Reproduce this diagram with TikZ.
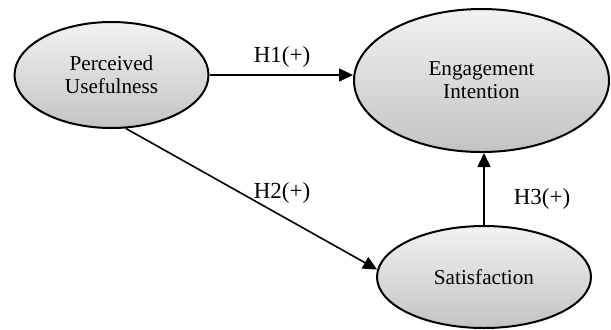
\documentclass[tikz,border=0pt]{standalone}
\usepackage{fontspec}
\setmainfont{Liberation Serif}
\usetikzlibrary{shapes.geometric,arrows.meta}
\definecolor{shtop}{RGB}{242,242,242}
\definecolor{shbot}{RGB}{195,195,195}
\tikzset{
  construct/.style={ellipse, draw=black, line width=1pt, inner sep=0pt,
    top color=shtop, bottom color=shbot, align=center,
    font=\fontsize{10.6}{11.6}\selectfont},
  path/.style={draw=black, line width=0.8pt, -{Triangle[length=7pt,width=6.5pt]}},
  hlabel/.style={font=\fontsize{11.5}{13}\selectfont, inner sep=0pt}
}
\begin{document}
\begin{tikzpicture}[x=0.5pt,y=-0.5pt]
\useasboundingbox (0,0) rectangle (611,329);
\node[construct, minimum width=97pt, minimum height=53pt] (pu) at (111.5,75) {Perceived\\Usefulness};
\node[construct, minimum width=127.5pt, minimum height=71.5pt] (ei) at (481.5,80.5) {Engagement\\Intention};
\node[construct, minimum width=107pt, minimum height=51pt] (sat) at (484,277) {Satisfaction};
\draw[path] (pu.east) -- (pu.east -| ei.west);
\draw[path] (pu.-75) -- (sat.176);
\draw[path] (sat.north) -- (sat.north |- ei.south);
\node[hlabel] (h1) at (282,57) {H1(+)};
\node[hlabel] (h2) at (282,193) {H2(+)};
\node[hlabel] (h3) at (542,199) {H3(+)};
\end{tikzpicture}
\end{document}
